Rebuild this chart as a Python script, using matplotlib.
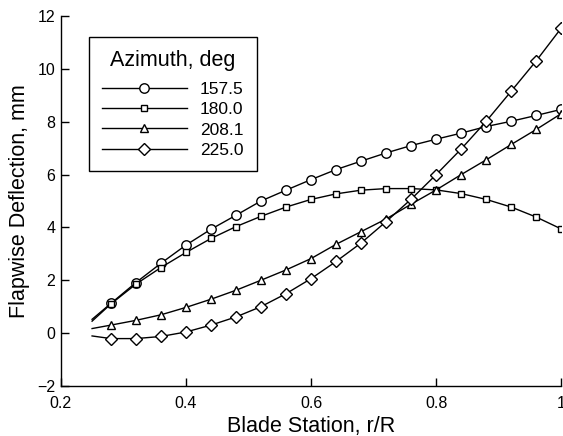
import numpy as np
import matplotlib.pyplot as plt

plt.rcParams['font.family'] = ['Liberation Sans', 'DejaVu Sans']

# Blade station (first point has no marker)
r = [0.25, 0.28, 0.32, 0.36, 0.40, 0.44, 0.48, 0.52, 0.56, 0.60, 0.64,
     0.68, 0.72, 0.76, 0.80, 0.84, 0.88, 0.92, 0.96, 1.00]

# Flapwise deflection, mm
az157 = [0.52, 1.12, 1.91, 2.64, 3.33, 3.93, 4.46, 5.00, 5.41, 5.81, 6.19,
         6.51, 6.82, 7.10, 7.34, 7.57, 7.82, 8.02, 8.24, 8.47]
az180 = [0.45, 1.10, 1.85, 2.48, 3.05, 3.58, 4.03, 4.42, 4.77, 5.06, 5.27,
         5.41, 5.47, 5.47, 5.42, 5.28, 5.06, 4.77, 4.39, 3.94]
az208 = [0.17, 0.30, 0.48, 0.69, 0.97, 1.28, 1.62, 2.00, 2.39, 2.82, 3.36,
         3.84, 4.32, 4.88, 5.42, 6.00, 6.56, 7.14, 7.71, 8.31]
az225 = [-0.11, -0.21, -0.21, -0.13, 0.04, 0.30, 0.61, 1.00, 1.49, 2.06, 2.71,
         3.41, 4.22, 5.07, 6.00, 6.97, 8.02, 9.16, 10.31, 11.55]

labels = ['157.5', '180.0', '208.1', '225.0']

fig = plt.figure(figsize=(5.63, 4.36), dpi=100)
ax = fig.add_axes([0.108, 0.115, 0.889, 0.848])

mk = dict(color='black', lw=1.0, mfc='white', mec='black', mew=1.0,
          markevery=list(range(1, len(r))))
ax.plot(r, az157, marker='o', ms=6.8, label=labels[0], **mk)
ax.plot(r, az180, marker='s', ms=4.4, label=labels[1], **mk)
ax.plot(r, az208, marker='^', ms=5.2, label=labels[2], **mk)
ax.plot(r, az225, marker='D', ms=6.6, label=labels[3], **mk)

ax.set_xlim(0.2, 1.0)
ax.set_ylim(-2, 12)
ax.set_xticks([0.2, 0.4, 0.6, 0.8, 1.0])
ax.set_xticklabels(['0.2', '0.4', '0.6', '0.8', '1'])
ax.set_yticks(range(-2, 13, 2))
ax.spines['top'].set_visible(False)
ax.spines['right'].set_visible(False)
ax.tick_params(direction='in', length=6, width=1, labelsize=11.5)
ax.tick_params(axis='x', pad=7)
ax.tick_params(axis='y', pad=4)
for s in ['left', 'bottom']:
    ax.spines[s].set_linewidth(1.0)

ax.set_xlabel('Blade Station, r/R', fontsize=15.5, labelpad=4)
ax.set_ylabel('Flapwise Deflection, mm', fontsize=15.5, labelpad=5)

leg = ax.legend(title='Azimuth, deg', loc='upper left', bbox_to_anchor=(0.056, 0.943),
                borderaxespad=0, fontsize=12.5, title_fontsize=15.5, handlelength=4.9,
                handletextpad=0.75, labelspacing=0.3, borderpad=0.75,
                fancybox=False, framealpha=1)
leg.get_frame().set_edgecolor('black')
leg.get_frame().set_linewidth(1.0)
leg._legend_box.sep = 7.5  # gap between title and entries

fig.savefig('out.png', dpi=100)
